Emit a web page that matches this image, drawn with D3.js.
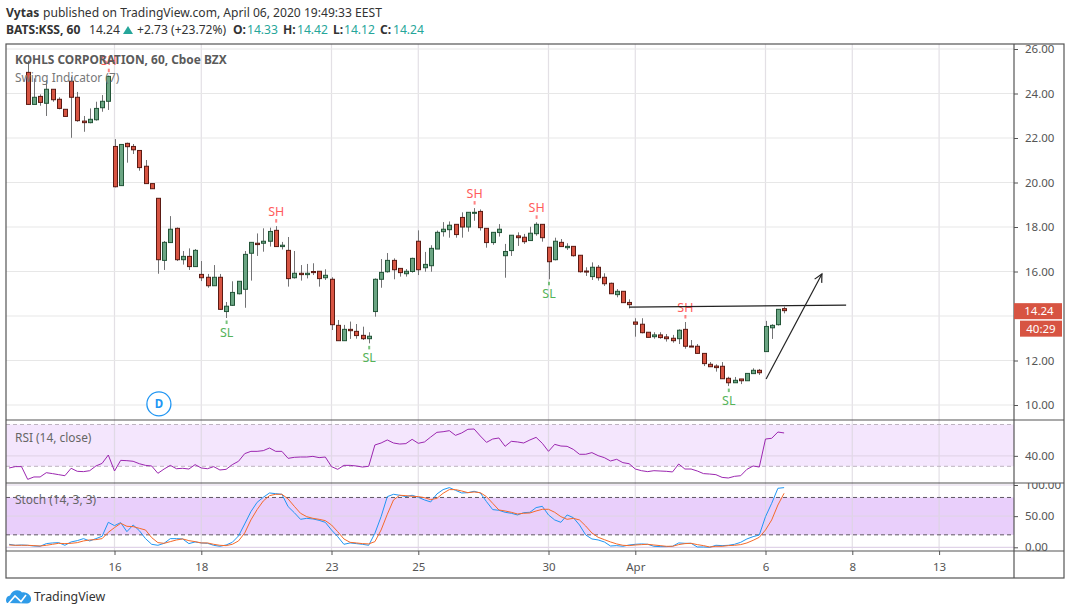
<!DOCTYPE html>
<html><head><meta charset="utf-8">
<style>
html,body{margin:0;padding:0;background:#fff;overflow:hidden}
svg{display:block}
text{font-family:"Noto Sans",sans-serif}
</style>
<script src="https://cdn.jsdelivr.net/npm/d3@7"></script>
</head><body><svg id="c" width="1073" height="615"></svg>
<script>
// bars start at bar index -14 (index 0 = first bar of March 16)
const opens=[24.95,23.51,23.87,23.56,24.19,23.74,23.29,24.55,23.83,22.76,22.69,22.82,23.36,23.65,
21.62,19.86,21.76,21.62,21.44,20.73,19.95,19.29,16.50,17.30,17.94,16.53,16.68,16.22,15.87,15.74,15.36,15.74,14.20,14.48,15.00,15.20,16.82,17.27,17.27,17.36,17.85,17.12,16.95,15.72,15.92,15.86,16.00,16.01,15.72,15.65,13.58,12.89,13.40,13.31,13.13,12.98,14.20,15.65,15.99,16.50,16.14,15.90,16.00,17.36,16.17,16.26,17.01,17.79,17.88,18.12,18.43,18.00,18.62,18.70,17.94,17.30,17.75,16.71,16.94,17.60,17.54,17.39,17.70,18.12,17.09,16.53,17.31,17.07,17.13,16.73,16.02,15.77,16.19,15.74,15.47,14.96,15.11,14.61,13.73,13.63,13.27,13.07,13.15,13.06,13.00,12.98,13.40,12.65,12.64,12.32,11.83,11.75,11.74,11.20,11.00,11.17,11.09,11.41,11.56,12.40,13.47,13.61,14.33];
const closes=[23.51,23.83,23.60,24.19,23.72,23.33,22.97,23.83,22.78,22.69,22.84,23.33,23.65,24.77,
19.81,21.71,21.61,21.47,20.67,19.95,19.72,16.53,17.31,17.90,16.53,16.68,16.22,16.95,15.72,15.36,15.74,14.30,14.44,15.06,15.56,16.77,17.31,17.21,17.36,17.80,17.12,17.18,15.68,15.92,15.86,15.92,15.95,15.68,15.83,13.61,12.89,13.40,13.34,13.12,12.98,13.09,15.65,15.96,16.50,16.08,15.95,16.01,16.59,16.08,16.32,17.04,17.76,17.90,18.08,17.66,18.00,18.66,18.66,17.97,17.30,17.76,17.90,16.90,17.63,17.52,17.34,17.72,18.12,17.52,16.44,17.36,17.12,17.13,16.71,15.99,15.99,16.19,15.72,15.45,15.00,15.11,14.60,14.51,13.63,13.25,13.04,13.15,13.03,12.98,12.89,13.36,12.64,12.62,12.32,11.86,11.72,11.68,11.18,11.00,11.11,11.09,11.42,11.56,11.45,13.53,13.58,14.30,14.24];
const highs=[25.47,24.68,23.96,24.60,24.19,23.83,23.29,24.75,24.07,22.99,23.33,23.63,23.93,24.80,
21.95,21.71,21.79,21.73,21.44,21.01,19.95,19.29,17.37,18.49,17.98,16.92,17.04,17.01,16.47,15.89,16.29,15.89,14.63,15.56,15.56,16.92,17.31,17.71,17.94,17.97,18.04,17.33,17.55,16.92,16.29,16.34,16.37,16.01,16.10,15.74,13.82,13.60,13.75,13.64,13.52,13.27,15.69,16.56,16.83,16.59,16.14,16.11,16.62,17.85,16.88,17.18,17.84,18.22,18.25,18.12,18.66,18.66,18.85,18.79,17.94,17.76,18.13,17.24,17.63,17.76,17.69,18.01,18.21,18.12,17.09,17.52,17.46,17.27,17.13,16.73,16.19,16.41,16.29,15.92,15.50,15.21,15.11,14.75,13.90,13.90,13.27,13.27,13.27,13.19,13.15,13.40,13.73,12.92,12.74,12.32,11.93,11.83,11.93,11.27,11.26,11.17,11.42,11.65,11.62,13.78,13.63,14.30,14.42];
const lows=[23.50,23.51,23.45,22.99,23.63,23.29,22.97,22.01,22.73,22.28,22.66,22.78,23.18,23.26,
19.78,19.86,20.89,21.28,20.53,19.95,19.72,15.90,16.07,17.28,16.47,16.31,16.07,16.22,15.57,15.27,15.36,14.27,13.91,14.45,14.97,14.37,15.59,16.70,16.89,17.12,17.12,16.99,15.32,15.68,15.59,15.69,15.84,15.32,15.62,13.37,12.89,12.89,12.97,12.98,12.92,12.77,13.97,15.27,15.95,15.65,15.77,15.77,15.95,15.84,15.99,15.99,17.01,17.57,17.52,17.52,17.52,17.79,18.28,17.84,17.07,17.20,17.57,15.72,16.70,17.15,17.24,17.39,17.61,17.34,15.65,16.50,17.12,16.97,16.67,15.95,15.80,15.62,15.59,15.35,15.00,14.84,14.60,14.34,13.07,13.22,13.03,12.98,12.98,12.85,12.80,12.74,12.53,12.62,12.31,11.75,11.72,11.50,11.18,10.85,11.00,10.94,11.09,11.41,11.35,12.40,12.97,13.57,14.12];

// RSI, %K, %D start at bar index -17
const rsi=[28.4,29.7,29.7,17.5,19.8,19.8,23.9,23.0,22.0,21.0,28.1,25.2,24.9,25.8,30.3,32.8,40.8,25.5,35.7,35.4,34.8,32.5,30.9,30.3,23.3,27.4,30.9,27.7,28.1,27.4,31.6,28.4,27.7,29.7,26.5,27.1,31.6,34.8,42.1,44.3,44.3,45.0,47.5,44.3,44.3,37.6,38.6,38.9,38.9,39.5,38.3,38.9,29.7,27.1,30.9,30.9,30.3,29.3,30.0,50.4,52.3,55.2,52.3,51.3,51.7,55.8,52.0,53.3,58.0,62.5,63.1,64.1,59.6,61.9,65.4,65.7,59.0,52.9,56.1,57.1,49.1,53.9,53.3,52.3,55.2,57.7,52.0,44.3,51.0,49.4,49.1,46.2,41.5,41.5,43.1,40.2,38.3,35.1,36.7,33.5,32.5,27.4,25.8,24.9,25.8,25.5,25.2,24.6,32.2,27.4,27.4,25.5,23.0,22.6,22.0,19.4,18.8,20.4,21.0,27.1,30.3,29.3,56.1,56.8,62.8,61.9];
const stochK=[4.8,3.2,3.7,3.2,2.1,1.6,5.9,7.0,7.5,3.2,8.6,10.7,13.9,10.2,13.9,17.7,40.1,34.8,39.6,25.1,35.8,26.8,13.9,4.8,3.2,6.4,13.9,13.9,13.4,5.9,8.6,7.0,6.4,3.2,1.6,3.7,8.0,18.2,37.5,57.2,72.2,80.3,87.2,86.1,85.1,65.3,55.6,44.9,46.5,45.5,43.3,40.1,27.8,17.1,4.8,7.0,5.9,4.8,3.2,22.5,49.2,81.3,85.1,83.5,81.3,83.5,80.3,76.0,72.8,85.6,92.6,95.8,91.5,87.2,87.7,89.9,87.2,73.3,60.5,59.4,56.2,54.6,51.9,55.6,56.2,63.7,65.8,51.9,43.9,40.1,51.9,47.6,35.8,19.8,13.4,11.8,8.6,2.1,2.7,1.6,3.7,4.8,5.4,4.8,1.6,1.1,1.1,1.6,7.0,6.4,6.4,0.5,0.5,0,3.2,2.7,3.2,4.8,8.0,13.4,17.1,19.8,49.2,70.6,94.7,95.8];
const stochD=[3.7,3.2,3.2,3.2,2.7,2.1,3.2,4.8,6.4,5.9,6.4,7.5,10.2,11.8,12.3,13.9,24.1,31.6,38.5,33.7,33.2,30.5,27.8,15.5,7.5,6.4,9.1,11.8,13.4,10.7,9.1,7.0,7.0,4.8,3.2,2.7,4.8,10.2,23.0,43.9,60.5,74.4,82.9,85.1,85.1,77.6,65.8,54.6,49.2,46.5,44.9,42.8,35.8,25.1,13.4,8.0,7.0,5.9,5.4,9.1,27.8,53.0,76.0,83.5,82.9,81.9,81.3,79.7,76.5,78.6,86.7,92.6,92.6,90.4,87.7,88.8,87.7,81.3,70.6,59.9,58.3,56.2,53.5,54.6,55.1,58.3,61.0,61.0,56.2,49.2,44.9,46.5,43.9,34.2,23.0,16.1,12.3,8.6,5.4,3.2,2.7,3.7,4.3,4.8,3.7,2.7,1.6,1.6,4.3,5.9,6.4,4.3,2.7,0.5,1.6,1.6,2.7,3.2,4.3,7.0,11.2,16.1,27.8,43.9,67.9,86.7];

const priceGrid=[10,12,14,16,18,20,22,24,26];
const priceTicks=[10,12,16,18,20,22,24,26]; // 14.00 sits under the last-price tag
const rsiTicks=[40];
const stochTicks=[0,50,100];
const dateTickIdx=[0,14,35,49,70,84,105,119,133];
const dateTickLabels=["16","18","23","25","30","Apr","6","8","13"];
const swingIdx=[-1,18,26,41,58,68,70,92,99];
const swingType=["SH","SL","SH","SL","SH","SH","SL","SH","SL"];
const trendIdx=[83,118], trendPrice=[14.40,14.49];
const arrowIdx=[105.1,114.1], arrowPrice=[11.17,15.89];

const FIRST_BAR=-14, FIRST_IND=-17;
const L=6,R=1014,OUT=1064,T=44,B=578;
const svg=d3.select("#c");
const x=d3.scaleLinear().domain([0,105]).range([114.5,765.5]);
const y=d3.scaleLinear().domain([10,26]).range([405,49]);
const yR=d3.scaleLinear().domain([30,70]).range([466.3,424.5]);
const yS=d3.scaleLinear().domain([0,100]).range([547.3,485]);
const P1B=420,P2B=483,P3B=551;
const grid="#e7e7e7";

// bands
const bands=svg.append("g");
bands.append("rect").attr("x",L).attr("width",R-L).attr("y",yR(70)).attr("height",yR(30)-yR(70)).attr("fill","#f4e6fd");
bands.append("rect").attr("x",L).attr("width",R-L).attr("y",yS(80)).attr("height",yS(20)-yS(80)).attr("fill","#e9cffb");

// grid
const g=svg.append("g").attr("fill","none").attr("stroke",grid).attr("stroke-width",1.2);
g.selectAll("line.v").data(dateTickIdx).join("line").attr("class","v")
 .attr("x1",d=>x(d)).attr("x2",d=>x(d)).attr("y1",T).attr("y2",P3B).attr("stroke-opacity",.75).attr("stroke","#d9d6dc");
g.selectAll("line.p").data(priceGrid).join("line").attr("class","p")
 .attr("x1",L).attr("x2",R).attr("y1",d=>y(d)).attr("y2",d=>y(d));
g.selectAll("line.r").data(rsiTicks).join("line").attr("class","r")
 .attr("x1",L).attr("x2",R).attr("y1",d=>yR(d)).attr("y2",d=>yR(d)).attr("stroke","#e3d6ea");
g.selectAll("line.s").data(stochTicks).join("line").attr("class","s")
 .attr("x1",L).attr("x2",R).attr("y1",d=>yS(d)).attr("y2",d=>yS(d)).attr("stroke","#e0d3e8");

// dashed band edges
[[yR(70),"#bdb3c0"],[yR(30),"#bdb3c0"],[yS(80),"#5f5763"],[yS(20),"#5f5763"]].forEach(([v,c])=>{
 svg.append("line").attr("x1",L).attr("x2",R).attr("y1",v).attr("y2",v).attr("stroke",c).attr("stroke-width",1).attr("stroke-dasharray","4 3");
});

// candles
const bars=opens.map((o,i)=>({i:i+FIRST_BAR,o,c:closes[i],h:highs[i],l:lows[i]}));
const cg=svg.append("g");
cg.selectAll("line").data(bars).join("line")
 .attr("x1",d=>Math.round(x(d.i))+.5).attr("x2",d=>Math.round(x(d.i))+.5)
 .attr("y1",d=>y(d.h)).attr("y2",d=>y(d.l)).attr("stroke","#737375").attr("stroke-width",1);
cg.selectAll("rect").data(bars).join("rect")
 .attr("x",d=>Math.round(x(d.i))-1.5).attr("width",4)
 .attr("y",d=>y(Math.max(d.o,d.c))).attr("height",d=>Math.max(1,y(Math.min(d.o,d.c))-y(Math.max(d.o,d.c))))
 .attr("fill",d=>d.c>=d.o?"#6ba583":"#d75442")
 .attr("stroke",d=>d.c>=d.o?"#225437":"#5b1a13").attr("stroke-width",1);

// swing labels
const swings=swingIdx.map((i,k)=>{const b=bars[i-FIRST_BAR];return{i,t:swingType[k],p:swingType[k]=="SH"?b.h:b.l};});
const sg=svg.append("g");
sg.selectAll("rect").data(swings).join("rect")
 .attr("x",d=>x(d.i)-.5).attr("width",2)
 .attr("y",d=>y(d.p)+(d.t=="SH"?-7:2.5)).attr("height",3.5)
 .attr("fill",d=>d.t=="SH"?"#ff5a5a":"#4caf50").attr("opacity",.75);
sg.selectAll("text").data(swings).join("text")
 .attr("x",d=>x(d.i)+.5).attr("y",d=>y(d.p)+(d.t=="SH"?-15:14)).attr("dy","0.36em")
 .attr("text-anchor","middle").attr("font-size",12.5)
 .attr("fill",d=>d.t=="SH"?"#ff5c5c":"#55b359").text(d=>d.t);

// drawings
svg.append("line").attr("x1",x(trendIdx[0])).attr("x2",x(trendIdx[1])).attr("y1",y(trendPrice[0])).attr("y2",y(trendPrice[1]))
 .attr("stroke","#222").attr("stroke-width",1.1);
svg.append("defs").append("marker").attr("id","ah").attr("markerWidth",12).attr("markerHeight",12).attr("refX",9).attr("refY",5).attr("orient","auto").attr("markerUnits","userSpaceOnUse")
 .append("path").attr("d","M1,1 L9,5 L1,9").attr("fill","none").attr("stroke","#222").attr("stroke-width",1.2);
svg.append("line").attr("x1",x(arrowIdx[0])).attr("x2",x(arrowIdx[1])).attr("y1",y(arrowPrice[0])).attr("y2",y(arrowPrice[1]))
 .attr("stroke","#222").attr("stroke-width",1.2).attr("marker-end","url(#ah)");

// D badge
svg.append("circle").attr("cx",x(7)+1).attr("cy",y(10.05)).attr("r",12).attr("fill","#fff").attr("stroke","#2196f3").attr("stroke-width",1.3);
svg.append("text").attr("x",x(7)+1).attr("y",y(10.05)).attr("dy","0.36em").attr("text-anchor","middle").attr("font-size",11.5).attr("font-weight",700).attr("fill","#2196f3").text("D");

// indicator lines
const idxOf=i=>i+FIRST_IND;
const lineR=d3.line().x((d,i)=>x(idxOf(i))).y(d=>yR(d));
const lineS=d3.line().x((d,i)=>x(idxOf(i))).y(d=>yS(d));
svg.append("path").attr("d",lineR(rsi)).attr("fill","none").attr("stroke","#9c27b0").attr("stroke-width",1);
svg.append("path").attr("d",lineS(stochK)).attr("fill","none").attr("stroke","#2196f3").attr("stroke-width",1);
svg.append("path").attr("d",lineS(stochD)).attr("fill","none").attr("stroke","#f56a2a").attr("stroke-width",1);

// axes (drawn before frames so the frame covers clipped tick text)
function styleAxis(s){
 s.select(".domain").remove();
 s.selectAll("line").attr("stroke","#555");
 s.selectAll("text").attr("fill","#555").attr("font-size",11.5).attr("font-family",'"Noto Sans",sans-serif');
}
svg.select("defs").append("clipPath").attr("id","stochClip").append("rect").attr("x",R).attr("y",P2B).attr("width",OUT-R).attr("height",P3B-P2B);
svg.append("g").attr("transform",`translate(${R},0)`).call(d3.axisRight(y).tickValues(priceTicks).tickFormat(d3.format(".2f")).tickSize(4).tickPadding(7)).call(styleAxis);
svg.append("g").attr("transform",`translate(${R},0)`).call(d3.axisRight(yR).tickValues(rsiTicks).tickFormat(d3.format(".2f")).tickSize(4).tickPadding(7)).call(styleAxis);
svg.append("g").attr("clip-path","url(#stochClip)").append("g").attr("transform",`translate(${R},0)`).call(d3.axisRight(yS).tickValues(stochTicks).tickFormat(d3.format(".2f")).tickSize(4).tickPadding(7)).call(styleAxis);
svg.append("g").attr("transform",`translate(0,${P3B})`).call(d3.axisBottom(x).tickValues(dateTickIdx).tickFormat((d,i)=>dateTickLabels[i]).tickSize(4).tickPadding(8)).call(styleAxis);

// frames
const fr=svg.append("g").attr("stroke","#555").attr("stroke-width",1.2).attr("fill","none");
fr.append("rect").attr("x",L).attr("y",T).attr("width",OUT-L).attr("height",B-T);
[P1B,P2B,P3B].forEach(v=>fr.append("line").attr("x1",L).attr("x2",OUT).attr("y1",v).attr("y2",v));
fr.append("line").attr("x1",R).attr("x2",R).attr("y1",T).attr("y2",B);

// last price tags
const lastClose=closes[closes.length-1];
svg.append("rect").attr("x",R).attr("y",y(lastClose)-7.5).attr("width",48).attr("height",16).attr("fill","#d75442");
svg.append("text").attr("x",R+25).attr("y",y(lastClose)+.5).attr("dy","0.36em").attr("text-anchor","middle").attr("font-size",11.5).attr("fill","#fff").text(d3.format(".2f")(lastClose));
svg.append("rect").attr("x",R+6).attr("y",y(lastClose)+10).attr("width",42).attr("height",16).attr("fill","#d75442");
svg.append("text").attr("x",R+27).attr("y",y(lastClose)+18).attr("dy","0.36em").attr("text-anchor","middle").attr("font-size",11.5).attr("fill","#fff").text("40:29");

// pane titles
const ptxt=(s,xx,yy,c,w)=>svg.append("text").attr("x",xx).attr("y",yy).attr("dy","0.36em").attr("font-size",11.9).attr("fill",c).attr("font-weight",w||400).text(s);
ptxt("KOHLS CORPORATION, 60, Cboe BZX",15,60,"#5a5a5a",700);
ptxt("Swing Indicator (7)",15,77.5,"#777");
ptxt("RSI (14, close)",15,437.5,"#666");
ptxt("Stoch (14, 3, 3)",15,500,"#666");

// header
const hd=(s,xx,yy,c,w)=>svg.append("text").attr("x",xx).attr("y",yy).attr("font-size",12.1).attr("fill",c).attr("font-weight",w||400).text(s);
hd("Vytas",6,17,"#333",700);
hd("published on TradingView.com, April 06, 2020 19:49:33 EEST",43,17,"#333");
hd("BATS:KSS, 60",6,34,"#333",700);
hd("14.24",89,34,"#333");
svg.append("path").attr("d",d3.line()([[123,34],[133,34],[128,26]])+"Z").attr("fill","#26a69a");
hd("+2.73 (+23.72%)",137,34,"#333");
hd("O:",233,34,"#333",700); hd("14.33",247,34,"#26a69a");
hd("H:",283,34,"#333",700); hd("14.42",297,34,"#26a69a");
hd("L:",333,34,"#333",700); hd("14.12",344,34,"#26a69a");
hd("C:",380,34,"#333",700); hd("14.24",393,34,"#26a69a");

// footer
svg.append("text").attr("x",34).attr("y",601).attr("font-size",12.4).attr("fill","#333").text("TradingView");
svg.append("path").attr("d","M7,603 C5,601 6,596 10,595.5 C12,590 19,588.5 22,592.5 C27,591.5 32,596 31,600 C31,602 29,603.5 27,603.5 Z").attr("fill","#2f9be8");
svg.append("path").attr("d","M8,604 L15,596 L21,601.5 L26,595").attr("fill","none").attr("stroke","#fff").attr("stroke-width",1.6);
</script></body></html>
